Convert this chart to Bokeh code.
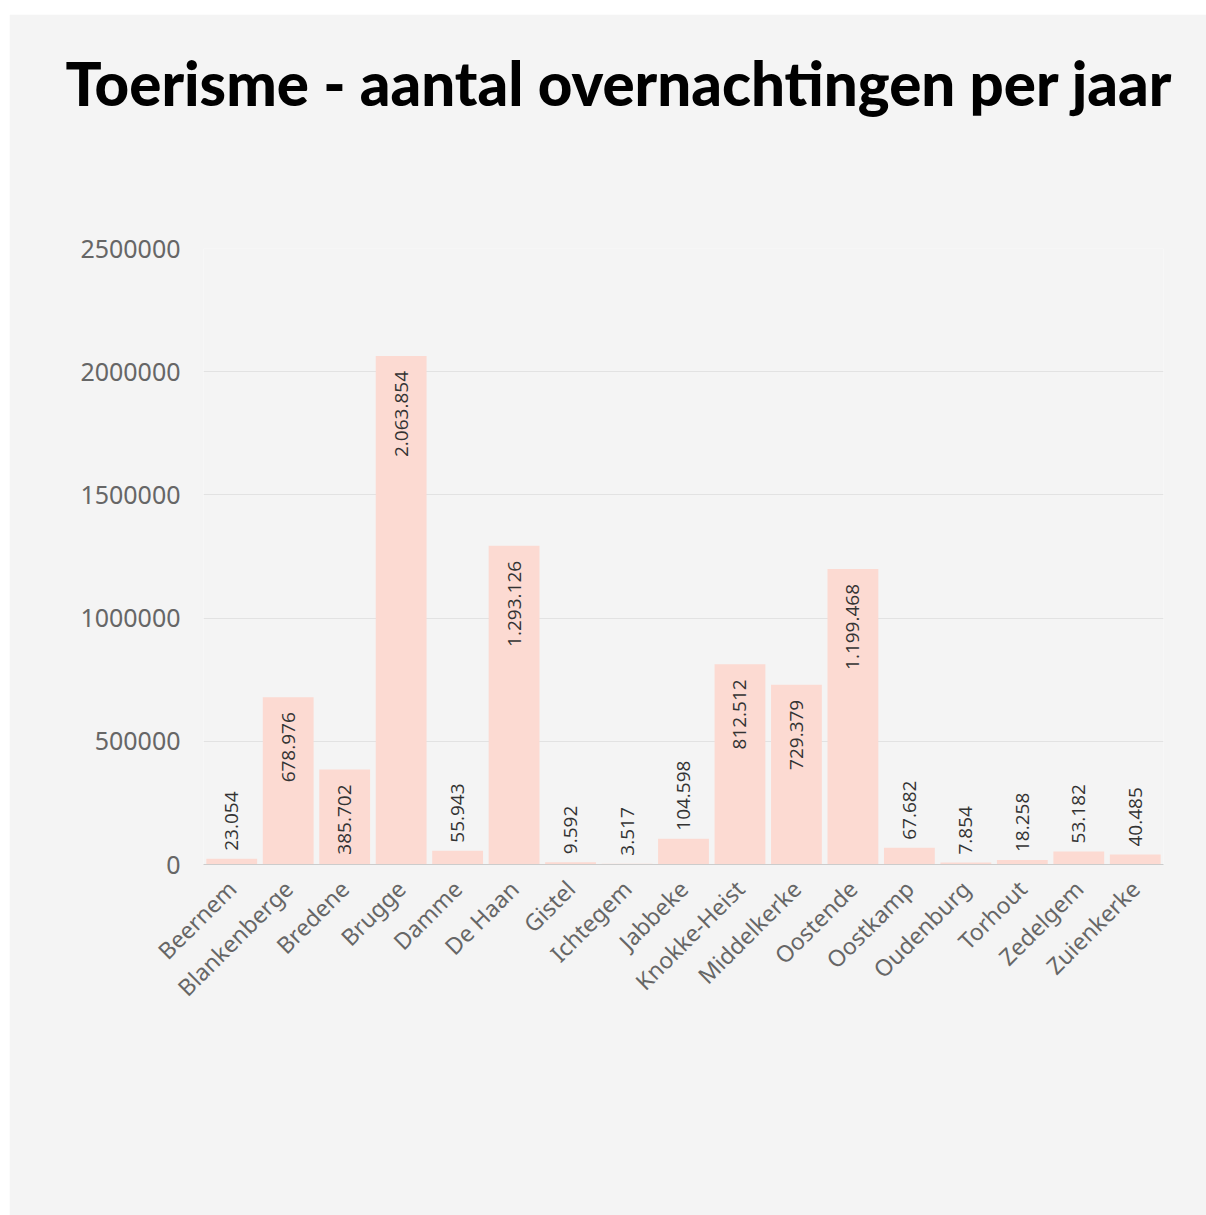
import math
from bokeh.plotting import figure
from bokeh.models import ColumnDataSource, FixedTicker, BasicTickFormatter, Range1d, Title
from bokeh.core.properties import value
from bokeh.embed import file_html
from bokeh.resources import INLINE

gemeenten = ["Beernem", "Blankenberge", "Bredene", "Brugge", "Damme", "De Haan",
             "Gistel", "Ichtegem", "Jabbeke", "Knokke-Heist", "Middelkerke",
             "Oostende", "Oostkamp", "Oudenburg", "Torhout", "Zedelgem", "Zuienkerke"]
overnachtingen = [23054, 678976, 385702, 2063854, 55943, 1293126,
                  9592, 3517, 104598, 812512, 729379,
                  1199468, 67682, 7854, 18258, 53182, 40485]
y_ticks = [0, 500000, 1000000, 1500000, 2000000, 2500000]
titel = "Toerisme - aantal overnachtingen per jaar"

labels = [f"{v:,}".replace(",", ".") for v in overnachtingen]
inside = [v > 300000 for v in overnachtingen]

src_in = ColumnDataSource(dict(
    x=[g for g, i in zip(gemeenten, inside) if i],
    y=[v for v, i in zip(overnachtingen, inside) if i],
    t=[l for l, i in zip(labels, inside) if i]))
src_out = ColumnDataSource(dict(
    x=[g for g, i in zip(gemeenten, inside) if not i],
    y=[v for v, i in zip(overnachtingen, inside) if not i],
    t=[l for l, i in zip(labels, inside) if not i]))

BG = "#f4f4f4"
p = figure(x_range=gemeenten, width=1197, height=1201,
           output_backend="svg", toolbar_location=None,
           min_border_left=194, min_border_right=43,
           min_border_top=234, min_border_bottom=351)
p.styles = {"margin-left": "9px", "margin-top": "14px"}
p.y_range = Range1d(0, 2500000)
p.background_fill_color = BG
p.border_fill_color = BG
p.outline_line_color = None

# spacer between plot area and title
p.add_layout(Title(text=" ", text_font_size="1px", standoff=95), "above")
p.add_layout(Title(text=titel, text_font="'Lato Black', Lato", text_font_style="bold",
                   text_font_size="60px", text_color="#000000",
                   align="left", vertical_align="top", offset=-138,
                   standoff=60), "above")

p.vbar(x=gemeenten, top=overnachtingen, width=0.9, fill_color="#fcdad2",
       line_color=None)

p.text(x="x", y="y", text="t", source=src_in, angle=math.pi / 2,
       text_align="right", text_baseline="middle", y_offset=15,
       text_font=value("Open Sans"), text_font_size="19px", text_color="#333333")
p.text(x="x", y="y", text="t", source=src_out, angle=math.pi / 2,
       text_align="left", text_baseline="middle", y_offset=-8,
       text_font=value("Open Sans"), text_font_size="19px", text_color="#333333")

p.yaxis.ticker = FixedTicker(ticks=y_ticks)
p.yaxis.formatter = BasicTickFormatter(use_scientific=False)
p.yaxis.axis_line_color = None
p.yaxis.major_tick_line_color = None
p.yaxis.minor_tick_line_color = None
p.yaxis.major_label_text_font = "Noto Sans"
p.yaxis.major_label_text_font_size = "25px"
p.yaxis.major_label_text_color = "#666666"
p.yaxis.major_label_standoff = 17

p.xaxis.axis_line_color = "#cccccc"
p.xaxis.major_tick_line_color = None
p.xaxis.major_label_orientation = math.pi / 4
p.xaxis.major_label_text_font = "Noto Sans"
p.xaxis.major_label_text_font_size = "23px"
p.xaxis.major_label_text_color = "#666666"
p.xaxis.major_label_standoff = 14

p.xgrid.grid_line_color = None
p.ygrid.grid_line_color = "#e2e2e2"
p.ygrid.grid_line_width = 1

open("out.html", "w").write(file_html(p, INLINE))
